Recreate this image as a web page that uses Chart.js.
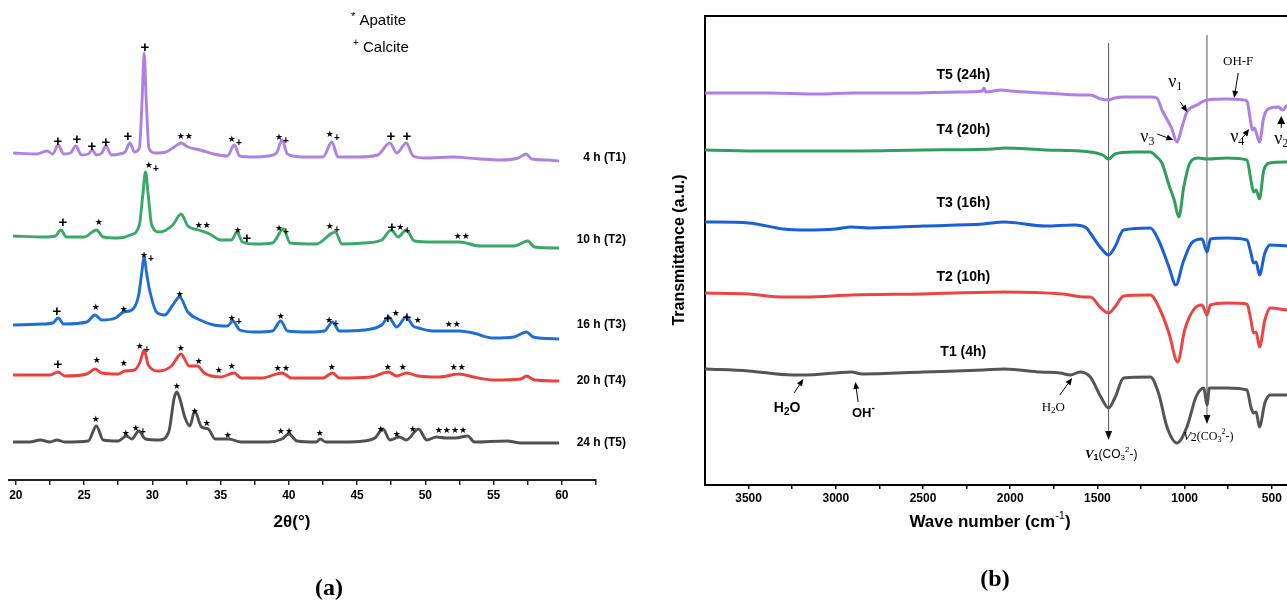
<!DOCTYPE html>
<html><head><meta charset="utf-8">
<script src="https://cdn.jsdelivr.net/npm/chart.js@4.4.1/dist/chart.umd.min.js"></script>
<style>
html,body{margin:0;padding:0;background:#fff;overflow:hidden;width:1287px;height:603px;position:relative;}
#ca{position:absolute;left:0;top:0;}
#cb{position:absolute;left:640px;top:0;}
</style></head><body>
<canvas id="ca" width="640" height="603"></canvas>
<canvas id="cb" width="680" height="603"></canvas>
<script>
// ---------------- Panel (a): XRD, [2theta, intensity a.u. incl. offset] ----------------
const xrdT1 = [[19.8,327],[21.5,326],[22.3,329],[22.7,326],[23.1,335],[23.5,326],[24.0,327],[24.4,334],[24.8,325],[25.3,326],[25.6,330],[25.9,325],[26.3,327],[26.6,334],[27.0,325],[27.6,326],[28.0,328],[28.35,337],[28.7,328],[29.05,332],[29.25,380],[29.4,427],[29.55,380],[29.75,332],[30.2,327],[31.0,328],[31.7,334],[32.1,337],[32.6,333],[33.5,330],[34.5,326],[35.5,324],[36.0,335],[36.4,324],[37.5,323],[38.5,324],[39.1,327],[39.5,340],[39.9,326],[41.0,323],[42.5,323],[43.15,338],[43.6,323],[45.0,323],[46.5,325],[47.4,337],[47.9,327],[48.6,337],[49.1,324],[50.0,322],[52.0,323],[54.0,321],[55.5,320],[56.8,322],[57.4,326],[57.8,321],[59.0,320],[59.8,319]];
const xrdT2 = [[19.8,244],[22.0,243],[22.9,244],[23.3,250],[23.7,243],[25.0,243],[25.9,250],[26.4,243],[27.5,242],[28.4,245],[29.05,255],[29.3,285],[29.5,308],[29.7,285],[29.95,255],[30.5,248],[31.5,255],[32.1,266],[32.6,254],[33.4,250],[34.2,246],[35.0,240],[35.8,240],[36.2,248],[36.6,238],[37.5,236],[38.8,237],[39.6,251],[40.1,237],[42.0,236],[43.4,248],[43.9,236],[45.5,237],[46.8,240],[47.5,250],[48.0,243],[48.6,250],[49.2,239],[50.5,238],[52.5,238],[54.0,234],[56.5,234],[57.5,239],[58.0,233],[59.8,232]];
const xrdT3 = [[19.8,155],[22.0,156],[22.7,157],[23.1,162],[23.5,156],[25.2,158],[25.8,165],[26.3,160],[27.3,162],[27.9,168],[28.5,170],[29.0,185],[29.2,205],[29.4,222],[29.6,205],[29.8,190],[30.3,168],[30.9,165],[31.5,175],[32.0,183],[32.6,168],[33.5,160],[34.5,155],[35.5,154],[35.9,159],[36.4,150],[37.5,148],[38.8,149],[39.4,159],[39.9,149],[41.5,148],[42.6,149],[43.2,158],[43.7,149],[45.5,150],[46.8,155],[47.3,163],[47.9,153],[48.6,163],[49.1,154],[49.5,152],[50.5,149],[52.5,149],[53.5,147],[55.0,142],[56.5,143],[57.4,148],[57.9,143],[59.8,141]];
const xrdT4 = [[19.8,105],[22.5,105],[23.1,108],[23.6,104],[25.2,106],[25.8,111],[26.3,107],[27.5,106],[28.0,109],[28.7,110],[29.1,118],[29.4,130],[29.7,115],[30.5,109],[31.4,114],[32.1,126],[32.7,114],[33.3,114],[33.8,107],[35.0,103],[36.0,107],[36.5,102],[38.0,102],[39.5,107],[40.2,102],[42.5,102],[43.2,107],[43.7,102],[46.0,103],[47.3,108],[47.9,104],[48.6,107],[49.5,104],[51.0,103],[52.5,106],[53.5,103],[55.0,100],[57.0,101],[57.4,104],[58.0,100],[59.8,99]];
const xrdT5 = [[19.8,38],[21.0,38],[21.8,40],[22.5,38],[23.0,40],[23.6,38],[25.3,39],[25.9,54],[26.4,40],[27.5,39],[28.1,44],[28.5,41],[29.0,49],[29.5,41],[30.5,40],[31.2,48],[31.6,82],[31.8,88],[32.0,82],[32.4,62],[32.75,54],[33.1,69],[33.6,53],[34.1,51],[34.6,41],[35.6,41],[36.5,38],[38.5,38],[39.5,41],[40.0,46],[40.6,39],[42.0,38],[42.3,41],[42.7,38],[44.0,38],[45.5,39],[46.3,42],[46.9,51],[47.4,40],[48.1,43],[48.6,40],[49.5,51],[50.1,40],[50.8,43],[51.5,42],[52.2,42],[53.1,44],[53.6,38],[56.0,39],[57.0,37],[59.8,37]];
const xrdLabels = ['4 h (T1)','10 h (T2)','16 h (T3)','20 h (T4)','24 h (T5)'];
const xrdTicks = [20,22.5,25,27.5,30,32.5,35,37.5,40,42.5,45,47.5,50,52.5,55,57.5,60,62.5];
// phase markers: [2theta, height, symbols]  (* apatite, + calcite)
const markT1 = [[23.08,338,'+'],[24.47,340,'+'],[25.57,333,'+'],[26.59,337,'+'],[28.2,343,'+'],[29.45,432,'+'],[32.38,343,'**'],[36.04,340,'*+'],[39.49,342,'*+'],[43.22,345,'*+'],[47.47,343,'+'],[48.64,343,'+']];
const markT2 = [[29.96,314,'*+'],[23.44,257,'+'],[26.08,257,'*'],[33.7,254,'**'],[36.26,249,'*'],[36.92,241,'+'],[39.49,251,'*+'],[43.22,253,'*+'],[48.06,252,'+*+'],[52.67,243,'**']];
const markT3 = [[29.6,224,'*+'],[23.0,168,'+'],[25.86,172,'*'],[27.91,170,'*'],[32.01,185,'*'],[36.04,161,'*+'],[39.41,163,'*'],[43.15,159,'*+'],[47.25,161,'+'],[47.84,166,'*'],[48.64,162,'+'],[49.45,159,'*'],[52.01,155,'**']];
const markT4 = [[23.08,115,'+'],[25.93,119,'*'],[27.91,116,'*'],[29.3,133,'*+'],[32.09,131,'*'],[33.41,118,'*'],[34.87,109,'*'],[35.82,113,'*'],[39.49,111,'**'],[43.15,112,'*'],[47.25,112,'*'],[48.35,112,'*'],[52.38,112,'**']];
const markT5 = [[25.86,60,'*'],[28.06,46,'*'],[29.01,51,'*+'],[31.79,93,'*'],[33.11,68,'*'],[33.99,56,'*'],[35.53,44,'*'],[39.71,48,'**'],[42.27,46,'*'],[46.74,50,'*'],[47.91,45,'*'],[49.08,50,'*'],[51.87,49,'****']];

// ---------------- Panel (b): FTIR, [wavenumber cm-1, transmittance a.u. incl. offset] ----------------
const irT5 = [[3750,392],[3400,392],[3100,391],[2900,392],[2600,392],[2300,393],[2160,394],[2150,397],[2140,393],[2050,395],[2000,394],[1800,392],[1600,390],[1541,390],[1480,386],[1436,385],[1400,387],[1350,388],[1250,388],[1197,388],[1159,387],[1130,375],[1075,357],[1044,343],[1015,358],[987,373],[929,380],[872,385],[757,386],[660,385],[640,383],[632,375],[610,355],[600,357],[571,343],[546,368],[509,377],[460,378],[440,375],[412,380]];
const irT4 = [[3750,335],[3400,334],[3000,334],[2500,335],[2100,336],[2034,337],[1800,335],[1600,334],[1541,333],[1470,330],[1436,326],[1400,331],[1300,333],[1197,333],[1160,328],[1130,322],[1090,300],[1060,285],[1033,268],[1005,298],[970,322],[920,327],[872,326],[757,327],[643,325],[620,305],[605,293],[590,295],[571,286],[546,315],[509,322],[412,323]];
const irT3 = [[3750,263],[3500,262],[3300,256],[3174,255],[3000,256],[2910,258],[2800,257],[2500,259],[2155,261],[2034,263],[1800,259],[1632,260],[1563,257],[1541,252],[1480,237],[1436,230],[1400,238],[1350,255],[1197,257],[1150,245],[1090,218],[1050,200],[1010,222],[960,242],[900,246],[872,233],[852,246],[757,247],[643,245],[620,232],[605,222],[590,223],[571,210],[540,232],[509,240],[412,239]];
const irT2 = [[3750,192],[3500,191],[3300,188],[3174,188],[2910,190],[2500,191],[2034,193],[1700,191],[1563,188],[1541,188],[1480,177],[1436,172],[1400,178],[1350,189],[1197,190],[1140,175],[1090,152],[1040,123],[1000,155],[950,175],[900,180],[872,170],[852,180],[757,182],[643,181],[620,165],[605,152],[590,153],[571,138],[540,165],[509,177],[412,175]];
const irT1 = [[3750,116],[3500,114],[3250,110],[3174,110],[3000,112],[2910,113],[2850,111],[2500,113],[2155,115],[2034,116],[1827,113],[1713,112],[1655,110],[1600,113],[1541,108],[1480,88],[1436,77],[1398,88],[1350,107],[1197,108],[1150,92],[1101,58],[1044,42],[987,58],[935,88],[890,97],[872,80],[858,97],[757,97],[643,95],[620,78],[605,72],[590,73],[571,58],[540,82],[509,90],[412,90]];
const irLabels = ['T5 (24h)','T4 (20h)','T3 (16h)','T2 (10h)','T1 (4h)'];
const irLabelPos = [[2269,410],[2269,355],[2269,282],[2269,208],[2269,133]];
const irTicks = [3500,3250,3000,2750,2500,2250,2000,1750,1500,1250,1000,750,500];
const irBands = [1436, 872];

const colA = ['#ad82e0','#3aa866','#1f6ed6','#ee3f3f','#505050'];
const colB = ['#b07fe4','#2f9e5e','#1a5fd8','#ec4444','#555555'];
const SANS = 'Arial, "Liberation Sans", sans-serif';
const SERIF = '"Times New Roman", "Liberation Serif", serif';

function toXY(arr){ return arr.map(p => ({x:p[0], y:p[1]})); }

function drawParts(ctx, x, y, parts, align){
  let tot = 0;
  parts.forEach(p => { ctx.font = p.font; p.w = ctx.measureText(p.t).width; tot += p.w; });
  let cx = align === 'left' ? x : align === 'right' ? x - tot : x - tot/2;
  ctx.textAlign = 'left'; ctx.textBaseline = 'middle';
  parts.forEach(p => { ctx.font = p.font; ctx.fillText(p.t, cx, y + (p.dy||0)); cx += p.w; });
}
function symParts(sym){
  const out = [];
  for (let i=0;i<sym.length;i++){
    const c = sym[i];
    if (c === '*') out.push({t:'\u2605', font:'9px "DejaVu Sans"', dy:0});
    else if (i>0 && sym[i-1]==='*') out.push({t:'+', font:'bold 10px '+SANS, dy:3});
    else out.push({t:'+', font:'bold 15px '+SANS, dy:0});
  }
  return out;
}
function arrow(ctx, x1, y1, x2, y2, head, half){
  head = head||7; half = half||3.2;
  const a = Math.atan2(y2-y1, x2-x1);
  const bx = x2 - head*Math.cos(a), by = y2 - head*Math.sin(a);
  ctx.beginPath(); ctx.moveTo(x1,y1); ctx.lineTo(bx,by); ctx.stroke();
  ctx.beginPath(); ctx.moveTo(x2,y2);
  ctx.lineTo(bx + half*Math.sin(a), by - half*Math.cos(a));
  ctx.lineTo(bx - half*Math.sin(a), by + half*Math.cos(a));
  ctx.closePath(); ctx.fill();
}

// -------- chart (a) --------
const marksA = [markT1, markT2, markT3, markT4, markT5];
const plugA = {
  id:'plugA',
  afterDraw(chart){
    const {ctx} = chart; const xs = chart.scales.x, ys = chart.scales.y;
    ctx.save(); ctx.fillStyle = '#000';
    marksA.forEach(list => list.forEach(m => {
      drawParts(ctx, xs.getPixelForValue(m[0]), ys.getPixelForValue(m[1]), symParts(m[2]), 'center');
    }));
    const ly = [158, 240, 325, 381, 443];
    ctx.font = 'bold 12px ' + SANS; ctx.textAlign = 'right'; ctx.textBaseline = 'middle';
    xrdLabels.forEach((t,i) => ctx.fillText(t, 626, ly[i]));
    // legend
    drawParts(ctx, 351, 21, [{t:'*', font:'11px '+SANS, dy:-4},{t:' Apatite', font:'15px '+SANS}], 'left');
    drawParts(ctx, 353, 48, [{t:'+', font:'10px '+SANS, dy:-5},{t:' Calcite', font:'15px '+SANS}], 'left');
    // axis title
    ctx.font = 'bold 17px ' + SANS; ctx.textAlign = 'center'; ctx.textBaseline = 'middle';
    ctx.fillText('2\u03B8(\u00B0)', 292, 522);
    ctx.font = 'bold 24px ' + SERIF;
    ctx.fillText('(a)', 329, 589);
    ctx.restore();
  }
};
new Chart(document.getElementById('ca'), {
  type:'line',
  data:{ datasets:[xrdT1,xrdT2,xrdT3,xrdT4,xrdT5].map((d,i)=>({
    label:xrdLabels[i], data:toXY(d), borderColor:colA[i], borderWidth:2.9,
    pointRadius:0, cubicInterpolationMode:'monotone', fill:false }))},
  options:{
    responsive:false, animation:false, devicePixelRatio:1,
    layout:{padding:{left:9, right:44, top:0, bottom:0}},
    plugins:{legend:{display:false}, tooltip:{enabled:false}},
    scales:{
      x:{ type:'linear', min:19.5, max:62.5,
        afterBuildTicks:s => { s.ticks = xrdTicks.map(v => ({value:v})); },
        afterFit:s => { s.height = 123; },
        ticks:{ autoSkip:false, maxRotation:0, padding:3, color:'#000',
          font:{family:SANS, size:12, weight:'bold'},
          callback:v => (v % 5 === 0 ? String(v) : '') },
        grid:{ drawOnChartArea:false, tickLength:5, color:'#222', lineWidth:1.5 },
        border:{ display:true, color:'#222', width:2 } },
      y:{ display:false, min:0, max:480 }
    }
  },
  plugins:[plugA]
});

// -------- chart (b) --------
const plugB = {
  id:'plugB',
  beforeDatasetsDraw(chart){
    const {ctx, chartArea:a} = chart; const xs = chart.scales.x, ys = chart.scales.y;
    ctx.save();
    ctx.strokeStyle = '#000'; ctx.lineWidth = 2;
    ctx.beginPath(); ctx.moveTo(a.left, a.bottom); ctx.lineTo(a.left, a.top); ctx.lineTo(a.right + 40, a.top); ctx.stroke();
    ctx.strokeStyle = '#555'; ctx.fillStyle = '#111'; ctx.lineWidth = 1;
    const tops = [442, 450], tips = [45, 61];
    irBands.forEach((w,i) => {
      const x = xs.getPixelForValue(w);
      arrow(ctx, x, ys.getPixelForValue(tops[i]), x, ys.getPixelForValue(tips[i]), 9, 3.5);
    });
    ctx.restore();
  },
  afterDraw(chart){
    const {ctx} = chart; const xs = chart.scales.x, ys = chart.scales.y;
    const X = w => xs.getPixelForValue(w), Y = v => ys.getPixelForValue(v);
    ctx.save(); ctx.fillStyle = '#000'; ctx.strokeStyle = '#000'; ctx.lineWidth = 1;
    ctx.font = 'bold 14px ' + SANS; ctx.textAlign = 'center'; ctx.textBaseline = 'middle';
    irLabels.forEach((t,i) => ctx.fillText(t, X(irLabelPos[i][0]), Y(irLabelPos[i][1])));
    // band annotations
    drawParts(ctx, X(3279), Y(77), [{t:'H', font:'bold 14px '+SANS},{t:'2', font:'bold 10px '+SANS, dy:4},{t:'O', font:'bold 14px '+SANS}], 'center');
    arrow(ctx, X(3239), Y(92), X(3186), Y(106), 7, 3);
    drawParts(ctx, X(2842), Y(72), [{t:'OH', font:'bold 13px '+SANS},{t:'-', font:'bold 10px '+SANS, dy:-5}], 'center');
    arrow(ctx, X(2872), Y(83), X(2888), Y(103), 7, 3);
    drawParts(ctx, X(1753), Y(77), [{t:'H', font:'13px '+SERIF},{t:'2', font:'9px '+SERIF, dy:3},{t:'O', font:'13px '+SERIF}], 'center');
    arrow(ctx, X(1716), Y(90), X(1645), Y(107), 7, 3);
    drawParts(ctx, X(1421), Y(30), [{t:'V', font:'italic bold 13px '+SERIF},{t:'1', font:'bold 9px '+SANS, dy:3},{t:'(CO', font:'12px '+SANS},{t:'3', font:'8px '+SANS, dy:3},{t:'2', font:'8px '+SANS, dy:-5},{t:'-)', font:'12px '+SANS}], 'center');
    drawParts(ctx, X(865), Y(48), [{t:'V', font:'italic 13px '+SERIF},{t:'2', font:'12px '+SERIF, dy:1},{t:'(CO', font:'12px '+SERIF},{t:'3', font:'8px '+SERIF, dy:3},{t:'2', font:'8px '+SERIF, dy:-5},{t:'-)', font:'12px '+SERIF}], 'center');
    ctx.textAlign = 'center'; ctx.font = '13px ' + SERIF;
    ctx.fillText('OH-F', X(693), Y(423));
    arrow(ctx, X(693), Y(412), X(716), Y(387), 7, 3);
    const nu = (w,v,s) => drawParts(ctx, X(w), Y(v), [{t:'\u03BD', font:'18px '+SERIF},{t:s, font:'12px '+SERIF, dy:5}], 'center');
    nu(1054,403,'1'); arrow(ctx, X(1025), Y(383), X(985), Y(373), 7, 3);
    nu(1214,348,'3'); arrow(ctx, X(1157), Y(351), X(1065), Y(345), 7, 3);
    nu(698,348,'4');  arrow(ctx, X(664), Y(348), X(630), Y(356), 7, 3);
    nu(446,346,'2');  arrow(ctx, X(446), Y(357), X(446), Y(369), 8, 4);
    // axis titles
    drawParts(ctx, 350, 522, [{t:'Wave number (cm', font:'bold 17px '+SANS},{t:'-1', font:'11px '+SANS, dy:-6},{t:')', font:'bold 17px '+SANS}], 'center');
    ctx.save(); ctx.translate(40, 250); ctx.rotate(-Math.PI/2);
    ctx.font = 'bold 16px ' + SANS; ctx.textAlign = 'center'; ctx.textBaseline = 'middle';
    ctx.fillText('Transmittance (a.u.)', 0, 0); ctx.restore();
    ctx.font = 'bold 24px ' + SERIF; ctx.textAlign = 'center'; ctx.textBaseline = 'middle';
    ctx.fillText('(b)', 355, 580);
    ctx.restore();
  }
};
new Chart(document.getElementById('cb'), {
  type:'line',
  data:{ datasets:[irT5,irT4,irT3,irT2,irT1].map((d,i)=>({
    label:irLabels[i], data:toXY(d), borderColor:colB[i], borderWidth:3,
    pointRadius:0, cubicInterpolationMode:'monotone', fill:false }))},
  options:{
    responsive:false, animation:false, devicePixelRatio:1,
    layout:{padding:{left:65, right:22, top:16, bottom:0}},
    plugins:{legend:{display:false}, tooltip:{enabled:false}},
    scales:{
      x:{ type:'linear', min:350, max:3750, reverse:true,
        afterBuildTicks:s => { s.ticks = irTicks.map(v => ({value:v})); },
        afterFit:s => { s.height = 118; },
        ticks:{ autoSkip:false, maxRotation:0, padding:2, color:'#000',
          font:{family:SANS, size:12, weight:'bold'},
          callback:v => (v % 500 === 0 ? String(v) : '') },
        grid:{ drawOnChartArea:false, tickLength:4, color:'#000', lineWidth:1.5 },
        border:{ display:true, color:'#000', width:2 } },
      y:{ display:false, min:0, max:469 }
    }
  },
  plugins:[plugB]
});
</script>
</body></html>
